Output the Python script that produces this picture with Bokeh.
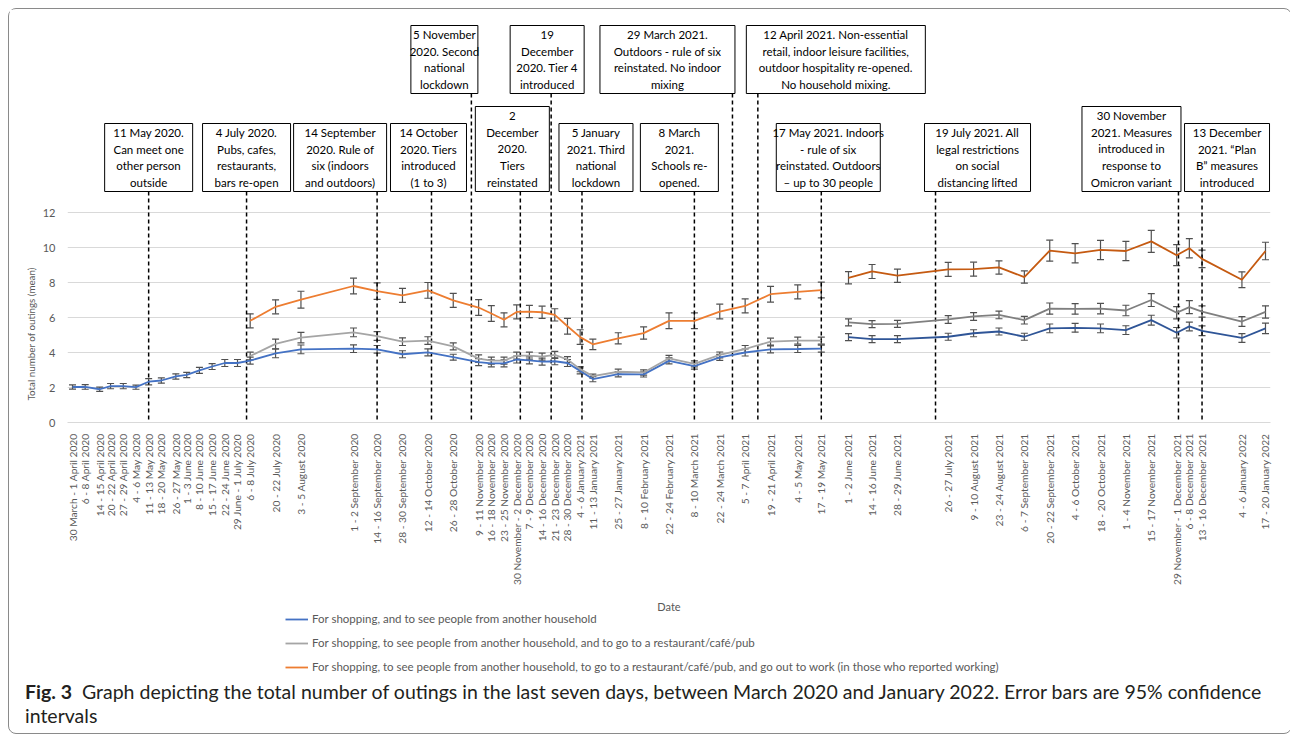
import math
from datetime import date
from bokeh.plotting import figure
from bokeh.models import (ColumnDataSource, FixedTicker, Whisker, TeeHead,
                          Legend, LegendItem, Range1d, Title, Div)
from bokeh.layouts import column
from bokeh.core.properties import value
from bokeh.embed import file_html
from bokeh.resources import INLINE

# ---------------- data ----------------
survey_start = ["2020-03-30", "2020-04-06", "2020-04-14", "2020-04-20", "2020-04-27", "2020-05-04",
                "2020-05-11", "2020-05-18", "2020-05-26", "2020-06-01", "2020-06-08", "2020-06-15",
                "2020-06-22", "2020-06-29", "2020-07-06", "2020-07-20", "2020-08-03", "2020-09-01",
                "2020-09-14", "2020-09-28", "2020-10-12", "2020-10-26", "2020-11-09", "2020-11-16",
                "2020-11-23", "2020-11-30", "2020-12-07", "2020-12-14", "2020-12-21", "2020-12-28",
                "2021-01-04", "2021-01-11", "2021-01-25", "2021-02-08", "2021-02-22", "2021-03-08",
                "2021-03-22", "2021-04-05", "2021-04-19", "2021-05-04", "2021-05-17", "2021-06-01",
                "2021-06-14", "2021-06-28", "2021-07-26", "2021-08-09", "2021-08-23", "2021-09-06",
                "2021-09-20", "2021-10-04", "2021-10-18", "2021-11-01", "2021-11-15", "2021-11-29",
                "2021-12-06", "2021-12-13", "2022-01-04", "2022-01-17"]

survey_labels = ["30 March - 1 April 2020", "6 - 8 April 2020", "14 - 15 April 2020", "20 - 22 April 2020",
                 "27 - 29 April 2020", "4 - 6 May 2020", "11 - 13 May 2020", "18 - 20 May 2020",
                 "26 - 27 May 2020", "1 - 3 June 2020", "8 - 10 June 2020", "15 - 17 June 2020",
                 "22 - 24 June 2020", "29 June - 1 July 2020", "6 - 8 July 2020", "20 - 22 July 2020",
                 "3 - 5 August 2020", "1 - 2 September 2020", "14 - 16 September 2020",
                 "28 - 30 September 2020", "12 - 14 October 2020", "26 - 28 October 2020",
                 "9 - 11 November 2020", "16 - 18 November 2020", "23 - 25 November 2020",
                 "30 November - 2 December 2020", "7 - 9 December 2020", "14 - 16 December 2020",
                 "21 - 23 December 2020", "28 - 30 December 2020", "4 - 6 January 2021",
                 "11 - 13 January 2021", "25 - 27 January 2021", "8 - 10 February 2021",
                 "22 - 24 February 2021", "8 - 10 March 2021", "22 - 24 March 2021", "5 - 7 April 2021",
                 "19 - 21 April 2021", "4 - 5 May 2021", "17 - 19 May 2021", "1 - 2 June 2021",
                 "14 - 16 June 2021", "28 - 29 June 2021", "26 - 27 July 2021", "9 - 10 August 2021",
                 "23 - 24 August 2021", "6 - 7 September 2021", "20 - 22 September 2021",
                 "4 - 6 October 2021", "18 - 20 October 2021", "1 - 4 November 2021",
                 "15 - 17 November 2021", "29 November - 1 December 2021", "6 - 8 December 2021",
                 "13 - 16 December 2021", "4 - 6 January 2022", "17 - 20 January 2022"]

blue_mean = [2.03, 2.03, 1.90, 2.08, 2.08, 2.02, 2.33, 2.40, 2.63, 2.72, 2.98, 3.20, 3.40, 3.40,
             3.54, 3.95, 4.18, 4.22, 4.18, 3.90, 4.01, 3.73, 3.45, 3.38, 3.38, 3.60, 3.55, 3.48,
             3.50, 3.40, 2.95, 2.48, 2.76, 2.75, 3.52, 3.22, 3.72, 4.00, 4.18, 4.20, 4.22,
             4.88, 4.77, 4.77, 4.90, 5.10, 5.20, 4.90, 5.38, 5.41, 5.38, 5.28, 5.85, 5.13, 5.49,
             5.24, 4.83, 5.38]
blue_ci = [0.12, 0.13, 0.12, 0.15, 0.15, 0.12, 0.18, 0.15, 0.15, 0.15, 0.17, 0.17, 0.20, 0.20,
           0.20, 0.25, 0.25, 0.22, 0.22, 0.20, 0.20, 0.17, 0.20, 0.20, 0.20, 0.20, 0.20, 0.20,
           0.20, 0.20, 0.17, 0.15, 0.15, 0.15, 0.17, 0.17, 0.17, 0.20, 0.20, 0.20, 0.20,
           0.20, 0.20, 0.20, 0.20, 0.20, 0.20, 0.20, 0.25, 0.25, 0.25, 0.25, 0.28, 0.30, 0.25,
           0.28, 0.25, 0.30]

gray_mean = [None] * 14 + [
    3.80, 4.49, 4.85, 5.15, 4.94, 4.62, 4.68, 4.35, 3.65, 3.54, 3.54, 3.82, 3.82, 3.77,
    3.86, 3.60, 3.05, 2.65, 2.90, 2.86, 3.67, 3.35, 3.86, 4.20, 4.62, 4.68, 4.68,
    5.72, 5.62, 5.64, 5.89, 6.06, 6.15, 5.85, 6.51, 6.49, 6.51, 6.40, 7.00, 6.27, 6.59,
    6.34, 5.77, 6.32]
gray_ci = [None] * 14 + [
    0.22, 0.28, 0.30, 0.25, 0.25, 0.22, 0.22, 0.20, 0.22, 0.20, 0.20, 0.20, 0.20, 0.20,
    0.20, 0.17, 0.15, 0.12, 0.15, 0.15, 0.17, 0.17, 0.17, 0.20, 0.20, 0.20, 0.20,
    0.20, 0.20, 0.20, 0.22, 0.22, 0.22, 0.22, 0.32, 0.30, 0.30, 0.30, 0.37, 0.35, 0.37,
    0.32, 0.28, 0.35]

orange_mean = [None] * 14 + [
    5.81, 6.61, 7.02, 7.80, 7.51, 7.27, 7.55, 6.98, 6.57, 6.23, 5.87, 6.32, 6.34, 6.30,
    6.15, 5.50, 4.88, 4.47, 4.81, 5.11, 5.81, 5.81, 6.34, 6.66, 7.33, 7.46, 7.57,
    8.27, 8.63, 8.39, 8.75, 8.76, 8.86, 8.31, 9.82, 9.67, 9.86, 9.80, 10.35, 9.56, 9.96,
    9.35, 8.16, 9.80]
orange_ci = [None] * 14 + [
    0.40, 0.40, 0.48, 0.45, 0.47, 0.40, 0.45, 0.40, 0.45, 0.45, 0.40, 0.40, 0.35, 0.35,
    0.35, 0.45, 0.42, 0.30, 0.32, 0.35, 0.45, 0.45, 0.42, 0.40, 0.45, 0.40, 0.45,
    0.35, 0.40, 0.38, 0.40, 0.40, 0.38, 0.35, 0.60, 0.55, 0.55, 0.55, 0.63, 0.60, 0.55,
    0.50, 0.45, 0.50]

series_names = ["For shopping, and to see people from another household",
                "For shopping, to see people from another household, and to go to a restaurant/café/pub",
                "For shopping, to see people from another household, to go to a restaurant/café/pub, "
                "and go out to work (in those who reported working)"]

second_phase_start = "2021-06-01"

event_dates = ["2020-05-11", "2020-07-04", "2020-09-14", "2020-10-14", "2020-11-05", "2020-12-02",
               "2020-12-19", "2021-01-05", "2021-03-08", "2021-03-29", "2021-04-12", "2021-05-17",
               "2021-07-19", "2021-11-30", "2021-12-13"]
event_texts = ["11 May 2020.\nCan meet one\nother person\noutside",
               "4 July 2020.\nPubs, cafes,\nrestaurants,\nbars re-open",
               "14 September\n2020. Rule of\nsix (indoors\nand outdoors)",
               "14 October\n2020. Tiers\nintroduced\n(1 to 3)",
               "5 November\n2020. Second\nnational\nlockdown",
               "2\nDecember\n2020.\nTiers\nreinstated",
               "19\nDecember\n2020. Tier 4\nintroduced",
               "5 January\n2021. Third\nnational\nlockdown",
               "8 March\n2021.\nSchools re-\nopened.",
               "29 March 2021.\nOutdoors - rule of six\nreinstated. No indoor\nmixing",
               "12 April 2021. Non-essential\nretail, indoor leisure facilities,\noutdoor hospitality re-opened.\nNo household mixing.",
               "17 May 2021. Indoors\n- rule of six\nreinstated. Outdoors\n\u2013 up to 30 people",
               "19 July 2021. All\nlegal restrictions\non social\ndistancing lifted",
               "30 November\n2021. Measures\nintroduced in\nresponse to\nOmicron variant",
               "13 December\n2021. \u201cPlan\nB\u201d measures\nintroduced"]

caption_bold = "Fig. 3"
caption_lines = ["Graph depicting the total number of outings in the last seven days, between March 2020 "
                 "and January 2022. Error bars are 95% confidence",
                 "intervals"]

# ---------------- layout / style constants ----------------
FONT = "Lato"
ORIGIN = date(2020, 3, 30)
FRAME_W, FRAME_H = 1203, 413          # frame: page x 67..1270, page y 9..422
LEFT, RIGHT = 58, 11
X0, X1 = -2.76, 660.76
PPD = FRAME_W / (X1 - X0)             # px per day
PPU = 17.5                            # px per y unit
YT = FRAME_H / PPU
FRAME_BOTTOM_PAGE = 422
LEG_H = 60

event_row = ["low", "low", "low", "low", "up", "low", "up", "low", "low", "up", "up", "low", "low", "low", "low"]
box_dx = [0, 0, -37, -3, -27, -8, -4, 14, -15, -65, 78, 7, 42, -47, 25]
box_w = [88, 88, 93, 76, 67, 74, 74, 74, 78, 135, 179, 104, 106, 99, 85]
low_bottom_page, up_bottom_page = 191, 93


def day(s):
    return (date.fromisoformat(s) - ORIGIN).days


def page_y(py):
    return (FRAME_BOTTOM_PAGE - py) / PPU


xs = [day(s) for s in survey_start]
split = day(second_phase_start)

p = figure(frame_width=FRAME_W, frame_height=FRAME_H, output_backend="svg", toolbar_location=None,
           x_range=Range1d(X0, X1), y_range=Range1d(0, YT),
           min_border_left=LEFT, min_border_right=RIGHT, min_border_top=0, min_border_bottom=0,
           outline_line_color=None)
p.xgrid.visible = False
yt = [0, 2, 4, 6, 8, 10, 12]
p.ygrid.ticker = FixedTicker(ticks=yt)
p.ygrid.grid_line_color = "#d9d9d9"
p.yaxis.ticker = FixedTicker(ticks=yt)
p.yaxis.axis_line_color = None
p.yaxis.major_tick_line_color = None
p.yaxis.minor_tick_line_color = None
p.yaxis.major_label_text_font = FONT
p.yaxis.major_label_text_font_size = "11px"
p.yaxis.major_label_text_color = "#595959"
p.yaxis.major_label_standoff = 6

p.add_layout(Title(text="Total number of outings (mean)", align="left", offset=22,
                   text_font=FONT, text_font_style="normal", text_font_size="9.8px",
                   text_color="#595959", standoff=6), "left")

p.xaxis.ticker = FixedTicker(ticks=xs)
p.xaxis.major_label_overrides = {x: lab for x, lab in zip(xs, survey_labels)}
p.xaxis.major_label_orientation = math.pi / 2
p.xaxis.axis_line_color = "#d9d9d9"
p.xaxis.major_tick_line_color = None
p.xaxis.minor_tick_line_color = None
p.xaxis.major_label_standoff = 5
p.xaxis.major_label_text_font = FONT
p.xaxis.major_label_text_font_size = "10.2px"
p.xaxis.major_label_text_color = "#595959"
p.xaxis.axis_label = "Date"
p.xaxis.axis_label_text_font = FONT
p.xaxis.axis_label_text_font_style = "normal"
p.xaxis.axis_label_text_font_size = "11px"
p.xaxis.axis_label_text_color = "#595959"
p.xaxis.axis_label_standoff = 12

# ---- event markers: dashed lines and boxes ----
ev_x = [day(d) for d in event_dates]
n_lines = [t.count("\n") + 1 for t in event_texts]
heights = [68 if n == 4 else 85 for n in n_lines]
bottoms = [page_y(low_bottom_page) if r == "low" else page_y(up_bottom_page) for r in event_row]
ev_src = ColumnDataSource(dict(
    x=ev_x,
    cx=[x + dx / PPD for x, dx in zip(ev_x, box_dx)],
    w=box_w,
    h=heights,
    bottom=bottoms,
    cy=[b + h / 2 / PPU for b, h in zip(bottoms, heights)],
    zero=[0] * len(ev_x),
    text=event_texts,
))
p.segment(x0="x", y0="bottom", x1="x", y1="zero", source=ev_src, line_color="black",
          line_dash="4 3", line_width=1.5)
p.rect(x="cx", y="cy", width="w", height="h", width_units="screen", height_units="screen",
       source=ev_src, fill_color="white", line_color="black", line_width=1)
p.text(x="cx", y="cy", text="text", source=ev_src, text_align="center", text_baseline="middle",
       text_font=value(FONT), text_font_size="11.5px", text_color="black", text_line_height=1.3)

# ---- legend strip (shares the x scale; its y window lies away from the data) ----
lp = figure(frame_width=FRAME_W, frame_height=LEG_H, output_backend="svg", toolbar_location=None,
            x_range=p.x_range, y_range=Range1d(100, 101), x_axis_type=None, y_axis_type=None,
            min_border_left=LEFT, min_border_right=RIGHT, min_border_top=0, min_border_bottom=0,
            outline_line_color=None)

# ---- series ----
series = [(blue_mean, blue_ci, "#4472C4", "#2F5597"),
          (gray_mean, gray_ci, "#A5A5A5", "#7F7F7F"),
          (orange_mean, orange_ci, "#ED7D31", "#C55A11")]
legend_items = []
for name, (mean, ci, c1, c2) in zip(series_names, series):
    for phase, color in ((1, c1), (2, c2)):
        idx = [i for i in range(len(xs))
               if mean[i] is not None and ((xs[i] < split) == (phase == 1))]
        src = ColumnDataSource(dict(
            x=[xs[i] for i in idx],
            y=[mean[i] for i in idx],
            lo=[mean[i] - ci[i] for i in idx],
            hi=[mean[i] + ci[i] for i in idx],
        ))
        p.line("x", "y", source=src, line_color=color, line_width=1.8)
        p.add_layout(Whisker(source=src, base="x", upper="hi", lower="lo",
                             line_color="#505050", line_width=1.2,
                             upper_head=TeeHead(size=7, line_color="#505050", line_width=1.2),
                             lower_head=TeeHead(size=7, line_color="#505050", line_width=1.2)))
        if phase == 1:
            lr = lp.line("x", "y", source=src, line_color=color, line_width=1.8)
            legend_items.append(LegendItem(label=name, renderers=[lr]))

legend = Legend(items=legend_items, orientation="vertical", location=(218, 2),
                label_text_font=FONT, label_text_font_size="11.5px", label_text_color="#595959",
                glyph_width=23, glyph_height=12, label_height=12,
                label_standoff=4, spacing=11,
                padding=0, margin=0, border_line_color=None, background_fill_alpha=0)
lp.add_layout(legend)

# ---- caption ----
caption = Div(text="<b>" + caption_bold + "</b>&nbsp; " + caption_lines[0] + "<br>" + caption_lines[1],
              width=LEFT + FRAME_W + RIGHT,
              styles={"font-family": "Lato", "font-size": "19.5px", "line-height": "24px",
                      "color": "#231f20", "padding-left": "11px", "white-space": "nowrap"})

layout = column(p, lp, caption, spacing=0,
                styles={"border": "1px solid #8a8a8a", "border-radius": "8px", "margin": "8px"})
open("out.html", "w").write(file_html(layout, INLINE))
